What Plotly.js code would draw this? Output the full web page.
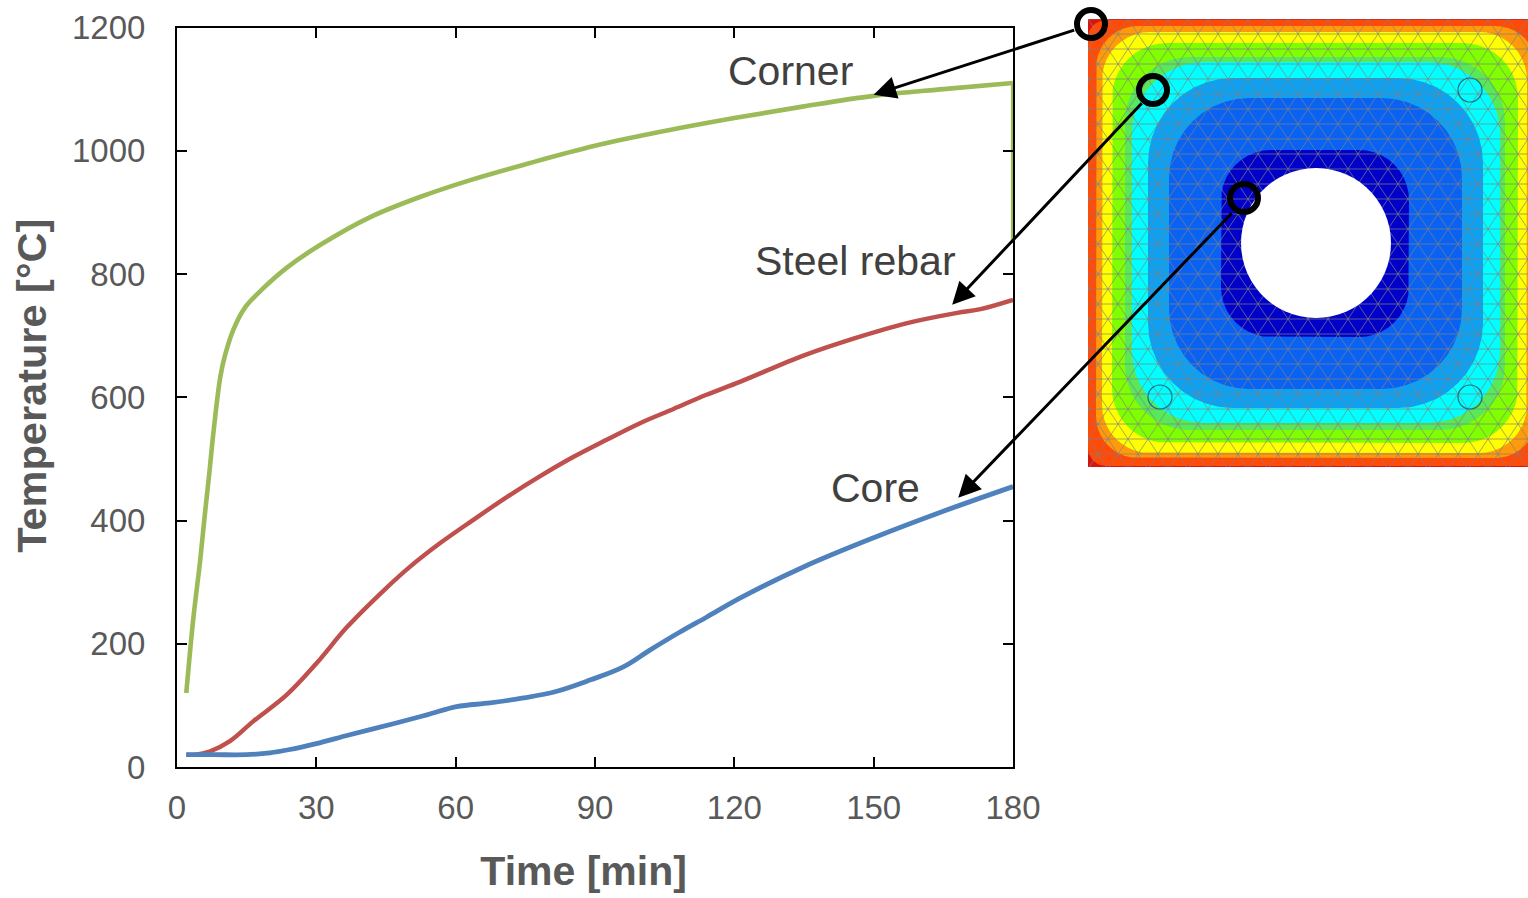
<!DOCTYPE html>
<html><head><meta charset="utf-8">
<script src="https://cdn.plot.ly/plotly-3.0.1.min.js"></script>
<style>html,body{margin:0;padding:0;background:#fff}#c{width:1528px;height:898px}</style>
</head><body><div id="c"></div>
<script>
// Chart data
const cornerTime = [2,3.5,5,6,7,7.8,9.3,10.3,12.1,14.6,18.6,23.6,30.8,41.5,52.3,63,75,90,105,120,135,150,165,180];
const cornerTemp = [120,240,336,410,480,540,632,667,709,745,777,810,847,892,925,952,978,1008,1032,1053,1072,1089,1100,1110];
const cornerDropTime = [180,180];
const cornerDropTemp = [1110,850];
const rebarTime = [2,4,7,11.4,16.4,23.6,30,36.6,45,50,56.6,63.8,71,78.2,85.3,92.5,99.7,106.9,114,121.2,135,146,157,168,173,180];
const rebarTemp = [20,20,25,42,74,117,168,227,290,324,363,401,438,472,503,531,558,581,604,625,668,696,720,737,743,758];
const coreTime = [2,8,15,20,24,30,37,47,54,60.2,67.4,74.6,81.8,88.9,96,101.9,108.3,114,121.2,135,150,165,180];
const coreTemp = [20,20,20,23,28,38,52,71,85,98,104,112,123,141,162,190,219,243,274,325,372,415,455];
const xTicks = [0,30,60,90,120,150,180];
const yTicks = [0,200,400,600,800,1000,1200];

// Temperature field inset: nested bands, outermost first (picture pixels)
const bandColors = ['#D81410','#FF4A08','#FF9A0A','#FFFF00','#7FFF00','#58E858','#00FFFF','#10A0F0','#0A62F2','#0000C8'];
const bandLeft   = [1088,1088,1096,1102,1112,1125,1132,1148,1169,1221];
const bandTop    = [19,20,26,32,43,57,62,78,98,150];
const bandRight  = [1560,1545,1537,1527,1518,1505,1500,1483,1462,1409];
const bandBottom = [467,466,458,453,443,430,423,408,389,337];
const bandRadius = [0,18,42,48,55,65,72,85,80,50];
const holeCentre = [1316,243];
const holeRadius = 75;
const rebarRingX = [1470,1160,1470,1153];
const rebarRingY = [90,397,397,90];
const probeX = [1091,1153,1244];
const probeY = [24,90,198];

const W = 1528, H = 898;
function roundedBand(l,t,r,b,rad){
  const xs=[],ys=[],corners=[[r-rad,t+rad,-90],[r-rad,b-rad,0],[l+rad,b-rad,90],[l+rad,t+rad,180]];
  corners.forEach(c=>{for(let i=0;i<=10;i++){const a=(c[2]+9*i)*Math.PI/180;xs.push(c[0]+rad*Math.cos(a));ys.push(c[1]+rad*Math.sin(a));}});
  xs.push(xs[0]);ys.push(ys[0]);
  return {x:xs,y:ys};
}
const traces = [];
bandColors.forEach((col,i)=>{
  const p = roundedBand(bandLeft[i],bandTop[i],bandRight[i],bandBottom[i],bandRadius[i]);
  traces.push({x:p.x,y:p.y,xaxis:'x2',yaxis:'y2',mode:'lines',fill:'toself',fillcolor:col,line:{width:0,color:col},hoverinfo:'skip',showlegend:false});
});
// Finite element mesh overlay
const meshX=[],meshY=[];
const cellW=20,cellH=15;
for(let row=0;row<=30;row++){
  const y=19+row*cellH;
  meshX.push(1088,1528,null);meshY.push(y,y,null);
}
for(let k=-30;k<=40;k++){
  const x0=1088+k*cellW;
  meshX.push(x0,x0+15*cellW,null);meshY.push(19,19+30*cellH,null);
  meshX.push(x0,x0-15*cellW,null);meshY.push(19,19+30*cellH,null);
}
traces.push({x:meshX,y:meshY,xaxis:'x2',yaxis:'y2',mode:'lines',line:{width:1,color:'rgba(130,130,130,0.7)'},hoverinfo:'skip',showlegend:false});
// Hole
const ang=[...Array(61).keys()].map(i=>i*6*Math.PI/180);
traces.push({x:ang.map(a=>holeCentre[0]+holeRadius*Math.cos(a)),y:ang.map(a=>holeCentre[1]+holeRadius*Math.sin(a)),xaxis:'x2',yaxis:'y2',mode:'lines',fill:'toself',fillcolor:'#fff',line:{width:0,color:'#fff'},hoverinfo:'skip',showlegend:false});
traces.push({x:rebarRingX,y:rebarRingY,xaxis:'x2',yaxis:'y2',mode:'markers',marker:{symbol:'circle-open',size:24,color:'#16708C',line:{width:1.2,color:'#16708C'}},hoverinfo:'skip',showlegend:false});
traces.push({x:probeX,y:probeY,xaxis:'x2',yaxis:'y2',mode:'markers',cliponaxis:false,marker:{symbol:'circle-open',size:28,color:'#000',line:{width:6,color:'#000'}},hoverinfo:'skip',showlegend:false});
// Curves
traces.push({name:'Corner',x:cornerTime,y:cornerTemp,mode:'lines',cliponaxis:false,line:{color:'#9BBB59',width:4.6,shape:'spline',smoothing:1},showlegend:false});
traces.push({name:'Corner drop',x:cornerDropTime,y:cornerDropTemp,mode:'lines',cliponaxis:false,line:{color:'#9BBB59',width:4.2},showlegend:false});
traces.push({name:'Steel rebar',x:rebarTime,y:rebarTemp,mode:'lines',cliponaxis:false,line:{color:'#C0504D',width:4.4,shape:'spline',smoothing:1},showlegend:false});
traces.push({name:'Core',x:coreTime,y:coreTemp,mode:'lines',cliponaxis:false,line:{color:'#4F81BD',width:4.8,shape:'spline',smoothing:1},showlegend:false});

const tickFont={family:'"Liberation Sans",Arial,sans-serif',size:33,color:'#595959'};
const noteFont={family:'"Liberation Sans",Arial,sans-serif',size:41,color:'#404040'};
function arrow(x,y,ax,ay){return {x,y,ax,ay,xref:'x',yref:'y',text:'',showarrow:true,arrowhead:2,arrowsize:1.5,arrowwidth:3,arrowcolor:'#000'};}
function label(text,x,y){return {text,x,y,xref:'x',yref:'y',showarrow:false,font:noteFont,xanchor:'center',yanchor:'middle'};}
const layout={
  width:W,height:H,margin:{l:0,r:0,t:0,b:0},paper_bgcolor:'#fff',plot_bgcolor:'#fff',showlegend:false,
  xaxis:{domain:[177/W,1013/W],range:[0,180],tickvals:xTicks,ticks:'inside',ticklen:10,tickwidth:2,tickcolor:'#000',showline:true,linecolor:'#000',linewidth:2,mirror:'ticks',showgrid:false,zeroline:false,tickfont:tickFont,ticklabelstandoff:10,anchor:'y',
    title:{text:'<b>Time [min]\u00A0\u00A0</b>',font:{family:'"Liberation Sans",Arial,sans-serif',size:41,color:'#595959'},standoff:32}},
  yaxis:{domain:[1-767/H,1-27.5/H],range:[0,1200],tickvals:yTicks,ticks:'inside',ticklen:10,tickwidth:2,tickcolor:'#000',showline:true,linecolor:'#000',linewidth:2,mirror:'ticks',showgrid:false,zeroline:false,tickfont:tickFont,ticklabelstandoff:23,anchor:'x',
    title:{text:'<b>\u00A0\u00A0Temperature [°C]</b>',font:{family:'"Liberation Sans",Arial,sans-serif',size:41.5,color:'#595959'},standoff:12}},
  xaxis2:{domain:[1088/W,1],range:[1088,1528],visible:false,anchor:'y2'},
  yaxis2:{domain:[1-467/H,1-19/H],range:[467,19],visible:false,anchor:'x2'},
  annotations:[
    label('Corner',132,1130),label('Steel rebar',146,821),label('Core',150.5,453),
    arrow(150,1091,202,-65),arrow(166.9,750,191,-203),arrow(168.2,437,275,-286)
  ]
};
Plotly.newPlot('c',traces,layout,{displayModeBar:false,staticPlot:true});
</script></body></html>
